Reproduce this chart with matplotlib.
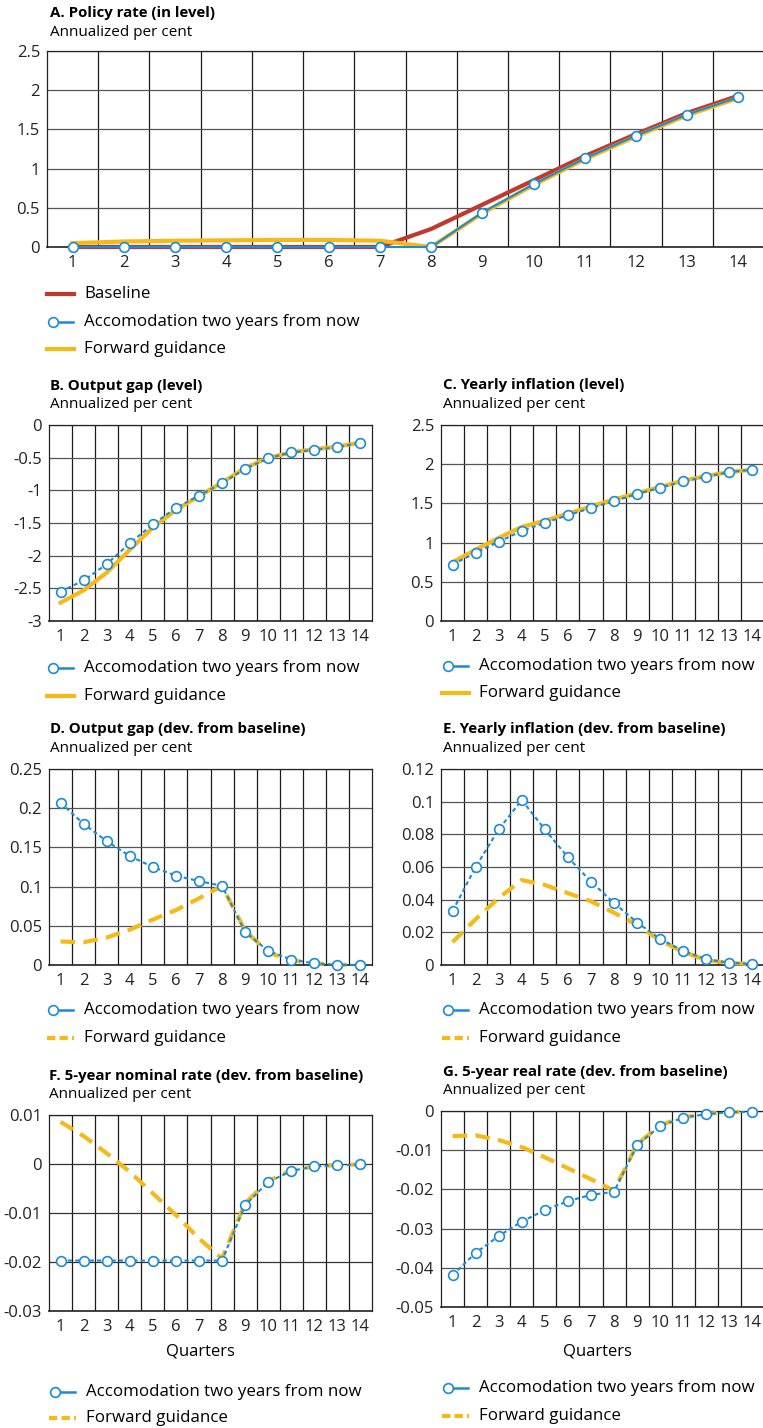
import matplotlib.pyplot as plt
from matplotlib.lines import Line2D
from matplotlib.ticker import FuncFormatter
import numpy as np

plt.rcParams['font.family'] = ['Open Sans', 'DejaVu Sans']
plt.rcParams['axes.unicode_minus'] = False

BLUE = '#1b8bd3'
YELLOW = '#f6b91a'
RED = '#c0392e'

quarters = np.arange(1, 15)

# A. policy rate (level)
rate_baseline = [0, 0, 0, 0, 0, 0, 0, 0.23, 0.54, 0.85, 1.16, 1.44, 1.71, 1.93]
rate_accom = [0, 0, 0, 0, 0, 0, 0, 0, 0.44, 0.80, 1.13, 1.42, 1.69, 1.91]
rate_fg = [0.05, 0.07, 0.08, 0.085, 0.09, 0.09, 0.08, 0.0, 0.43, 0.79, 1.12, 1.41, 1.68, 1.90]

# B. output gap (level)
gap_accom = [-2.55, -2.38, -2.13, -1.81, -1.52, -1.27, -1.08, -0.89, -0.67, -0.51, -0.42, -0.38, -0.34, -0.27]
gap_fg = [-2.72, -2.53, -2.26, -1.91, -1.57, -1.30, -1.09, -0.88, -0.66, -0.50, -0.42, -0.37, -0.33, -0.27]

# C. yearly inflation (level)
infl_accom = [0.72, 0.87, 1.01, 1.15, 1.25, 1.35, 1.44, 1.53, 1.62, 1.70, 1.78, 1.84, 1.90, 1.93]
infl_fg = [0.75, 0.91, 1.06, 1.20, 1.28, 1.37, 1.46, 1.55, 1.63, 1.71, 1.79, 1.85, 1.90, 1.93]

# D. output gap (dev. from baseline)
gap_dev_accom = [0.207, 0.180, 0.158, 0.139, 0.125, 0.114, 0.107, 0.101, 0.042, 0.018, 0.007, 0.002, 0.0004, 0.0]
gap_dev_fg = [0.030, 0.029, 0.035, 0.045, 0.058, 0.070, 0.085, 0.101, 0.044, 0.016, 0.006, 0.002, 0.0003, 0.0]

# E. yearly inflation (dev. from baseline)
infl_dev_accom = [0.033, 0.060, 0.083, 0.101, 0.083, 0.066, 0.051, 0.038, 0.026, 0.016, 0.0086, 0.0035, 0.0014, 0.0006]
infl_dev_fg = [0.014, 0.028, 0.041, 0.052, 0.049, 0.044, 0.039, 0.032, 0.0245, 0.015, 0.008, 0.003, 0.0012, 0.0005]

# F. 5-year nominal rate (dev. from baseline)
nom_accom = [-0.0197, -0.0197, -0.0197, -0.0197, -0.0197, -0.0197, -0.0197, -0.0197,
             -0.0084, -0.0037, -0.0014, -0.0005, -0.0003, -0.0001]
nom_fg = [0.0086, 0.0057, 0.0022, -0.0016, -0.0060, -0.0104, -0.0152, -0.0193,
          -0.0080, -0.0035, -0.0013, -0.0005, -0.0002, -0.0001]

# G. 5-year real rate (dev. from baseline)
real_accom = [-0.0419, -0.0362, -0.0319, -0.0282, -0.0253, -0.0230, -0.0214, -0.0206,
              -0.0087, -0.0038, -0.0017, -0.0008, -0.0003, -0.0002]
real_fg = [-0.0064, -0.0062, -0.0074, -0.0092, -0.0118, -0.0146, -0.0174, -0.0203,
           -0.0085, -0.0036, -0.0016, -0.0007, -0.0003, -0.0002]

LBL_ACCOM = 'Accomodation two years from now'
LBL_FG = 'Forward guidance'

W, H = 763, 1428
fig = plt.figure(figsize=(W / 100, H / 100), dpi=100)


def fmt(v, pos):
    if abs(v) < 1e-12:
        return '0'
    return f'{round(v, 6):g}'


def make_axes(left, top, right, bottom, ylim, yticks):
    ax = fig.add_axes([left / W, 1 - bottom / H, (right - left) / W, (bottom - top) / H])
    ax.set_xlim(0.5, 14.5)
    ax.set_ylim(*ylim)
    ax.set_xticks(quarters)
    ax.set_xticks(np.arange(1.5, 14, 1), minor=True)
    ax.set_yticks(yticks)
    ax.yaxis.set_major_formatter(FuncFormatter(fmt))
    ax.tick_params(which='both', length=0, labelsize=12, colors='#222222')
    ax.tick_params(axis='x', pad=6)
    ax.tick_params(axis='y', pad=5)
    ax.grid(axis='x', which='minor', color='#1a1a1a', lw=0.9)
    ax.grid(axis='y', which='major', color='#555555', lw=0.9)
    ax.set_axisbelow(True)
    for s in ax.spines.values():
        s.set_color('#222222')
        s.set_linewidth(0.9)
    ax.spines['bottom'].set_linewidth(1.2)
    return ax


def plot_pair(ax, accom, fg, dashed):
    if dashed:
        ax.plot(quarters, fg, color=YELLOW, lw=3, ls=(0, (3.5, 2)), zorder=3, clip_on=False)
    else:
        ax.plot(quarters, fg, color=YELLOW, lw=3, zorder=3, clip_on=False)
    ax.plot(quarters, accom, color=BLUE, lw=1.5, ls=(0, (2, 1.5)), marker='o', ms=7,
            mfc='white', mec=BLUE, mew=1.2, zorder=4, clip_on=False)


def titles(x, y, title):
    fig.text(x / W, 1 - y / H, title, fontsize=10.8, fontweight='bold', va='center', ha='left')
    fig.text(x / W, 1 - (y + 19) / H, 'Annualized per cent', fontsize=11, va='center', ha='left')


def key(mx, y, kind, label):
    yf = 1 - y / H
    if kind == 'blue':
        fig.add_artist(Line2D([mx / W, (mx + 20) / W], [yf, yf], color=BLUE, lw=1.8))
        fig.add_artist(Line2D([mx / W], [yf], marker='o', ms=7, mfc='white', mec=BLUE, mew=1.2))
    else:
        color = RED if kind == 'red' else YELLOW
        ls = (0, (2, 1)) if kind == 'yellow_dash' else '-'
        fig.add_artist(Line2D([(mx - 6) / W, (mx + 21) / W], [yf, yf], color=color, lw=3, ls=ls))
    fig.text((mx + 31) / W, yf, label, fontsize=12.2, va='center', ha='left')


# A
ax = make_axes(47, 51, 764, 247, (0, 2.5), [0, 0.5, 1, 1.5, 2, 2.5])
ax.spines['right'].set_visible(False)
ax.plot(quarters, rate_baseline, color=RED, lw=3, zorder=3, clip_on=False)
ax.plot(quarters, rate_fg, color=YELLOW, lw=3, zorder=3, clip_on=False)
ax.plot(quarters, rate_accom, color=BLUE, lw=1.5, marker='o', ms=7,
        mfc='white', mec=BLUE, mew=1.2, zorder=4, clip_on=False)
titles(50, 13, 'A. Policy rate (in level)')
key(53, 294, 'red', 'Baseline')
key(53, 322, 'blue', LBL_ACCOM)
key(53, 349, 'yellow', LBL_FG)

# B
ax = make_axes(49, 425, 372, 621, (-3, 0), [-3, -2.5, -2, -1.5, -1, -0.5, 0])
plot_pair(ax, gap_accom, gap_fg, False)
titles(50, 386, 'B. Output gap (level)')
key(53, 668, 'blue', LBL_ACCOM)
key(53, 696, 'yellow', LBL_FG)

# C
ax = make_axes(441, 425, 764, 621, (0, 2.5), [0, 0.5, 1, 1.5, 2, 2.5])
plot_pair(ax, infl_accom, infl_fg, False)
titles(443, 385, 'C. Yearly inflation (level)')
key(448, 666, 'blue', LBL_ACCOM)
key(448, 693, 'yellow', LBL_FG)

# D
ax = make_axes(49, 769, 372, 965, (0, 0.25), [0, 0.05, 0.1, 0.15, 0.2, 0.25])
plot_pair(ax, gap_dev_accom, gap_dev_fg, True)
titles(50, 729, 'D. Output gap (dev. from baseline)')
key(53, 1010, 'blue', LBL_ACCOM)
key(53, 1038, 'yellow_dash', LBL_FG)

# E
ax = make_axes(441, 769, 764, 965, (0, 0.12), [0, 0.02, 0.04, 0.06, 0.08, 0.1, 0.12])
plot_pair(ax, infl_dev_accom, infl_dev_fg, True)
titles(443, 729, 'E. Yearly inflation (dev. from baseline)')
key(448, 1010, 'blue', LBL_ACCOM)
key(448, 1038, 'yellow_dash', LBL_FG)

# F
ax = make_axes(49, 1115, 372, 1311, (-0.03, 0.01), [-0.03, -0.02, -0.01, 0, 0.01])
ax.grid(axis='y', which='major', color='#333333', lw=0.9)
plot_pair(ax, nom_accom, nom_fg, True)
titles(49, 1076, 'F. 5-year nominal rate (dev. from baseline)')
fig.text(200 / W, 1 - 1351 / H, 'Quarters', fontsize=12, ha='center', va='center')
key(55, 1392, 'blue', LBL_ACCOM)
key(55, 1418, 'yellow_dash', LBL_FG)

# G
ax = make_axes(441, 1111, 764, 1307, (-0.05, 0), [-0.05, -0.04, -0.03, -0.02, -0.01, 0])
plot_pair(ax, real_accom, real_fg, True)
titles(443, 1072, 'G. 5-year real rate (dev. from baseline)')
fig.text(597 / W, 1 - 1351 / H, 'Quarters', fontsize=12, ha='center', va='center')
key(448, 1388, 'blue', LBL_ACCOM)
key(448, 1416, 'yellow_dash', LBL_FG)

fig.savefig('out.png', dpi=100)
